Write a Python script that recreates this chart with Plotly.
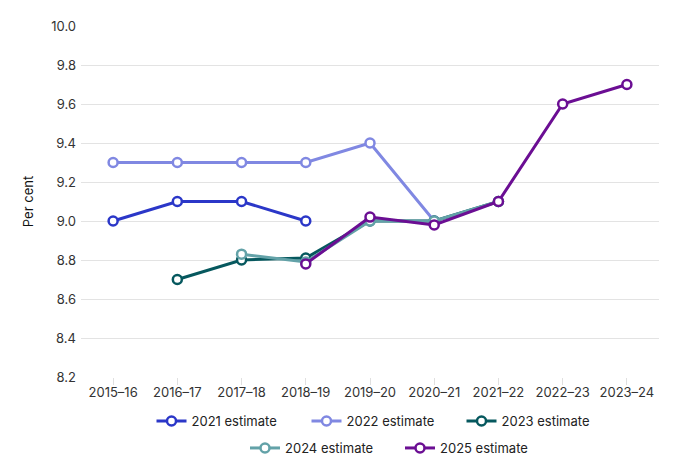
import plotly.graph_objects as go

categories = ["2015–16", "2016–17", "2017–18", "2018–19", "2019–20",
              "2020–21", "2021–22", "2022–23", "2023–24"]

est_2021 = [9.0, 9.1, 9.1, 9.0, None, None, None, None, None]
est_2022 = [9.3, 9.3, 9.3, 9.3, 9.4, 9.0, None, None, None]
est_2023 = [None, 8.7, 8.8, 8.81, 9.0, 9.0, 9.1, None, None]
est_2024 = [None, None, 8.83, 8.79, 9.0, 9.0, 9.1, None, None]
est_2025 = [None, None, None, 8.78, 9.02, 8.98, 9.1, 9.6, 9.7]

series = [
    ("2021 estimate", est_2021, "#2b37c8", "legend"),
    ("2022 estimate", est_2022, "#8088e2", "legend"),
    ("2023 estimate", est_2023, "#06585e", "legend"),
    ("2024 estimate", est_2024, "#63a2a8", "legend2"),
    ("2025 estimate", est_2025, "#6b0e93", "legend2"),
]

fig = go.Figure()
for name, vals, color, leg in series:
    fig.add_trace(go.Scatter(
        x=categories, y=vals, name=name, mode="lines+markers",
        line=dict(color=color, width=3),
        marker=dict(symbol="circle", size=9, color="white",
                    line=dict(color=color, width=2.5)),
        legend=leg, connectgaps=False,
    ))

font = "Inter, 'Noto Sans', sans-serif"
leg_common = dict(orientation="h", xanchor="center", yanchor="middle",
                  xref="container", yref="container",
                  font=dict(family=font, size=13, color="#222"),
                  entrywidth=110, bgcolor="rgba(0,0,0,0)", itemwidth=30)

fig.update_layout(
    width=680, height=474,
    margin=dict(l=73, r=29, t=18, b=105, autoexpand=False),
    plot_bgcolor="white", paper_bgcolor="white",
    font=dict(family=font, size=13, color="#333"),
    showlegend=True,
    legend=dict(x=0.525 + 19 / 680, y=1 - 413 / 474, **leg_common),
    legend2=dict(x=0.525 + 35 / 680, y=1 - 440 / 474, **leg_common),
    xaxis=dict(
        type="category", range=[-0.5, 8.5], automargin=False,
        showgrid=False, showline=False, zeroline=False,
        ticks="outside", ticklen=7, tickcolor="#e0e0e0", tickwidth=1,
        ticklabelstandoff=-4,
        tickfont=dict(family=font, size=13, color="#333"),
    ),
    yaxis=dict(
        range=[8.2, 10.0], dtick=0.2, tick0=8.2, tickformat=".1f",
        automargin=False,
        showgrid=True, gridcolor="#e3e3e3", gridwidth=1,
        zeroline=False, showline=False,
        tickfont=dict(family=font, size=13, color="#333"),
        ticklabelstandoff=4,
        title=dict(text="Per cent", font=dict(family=font, size=13, color="#111"),
                   standoff=14),
    ),
)

fig.write_html("out.html")
